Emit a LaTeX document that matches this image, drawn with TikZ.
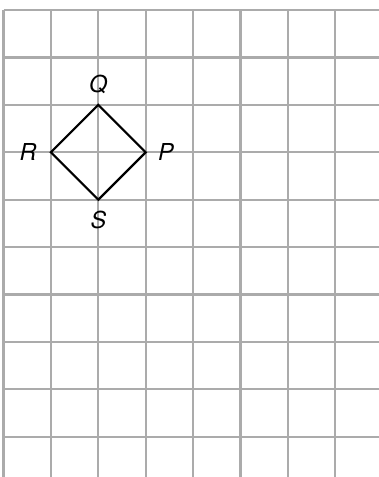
\documentclass[tikz,border=0pt]{standalone}
\usepackage{fontspec}
\setmainfont{TeX Gyre Heros}
\usetikzlibrary{positioning}

\begin{document}
\begin{tikzpicture}[gridline/.style={line width=1.3pt,black!33},side/.style={line width=1.3pt,black,line join=miter},label/.style={font=\fontsize{14}{16}\selectfont\itshape,inner sep=1pt}]
\useasboundingbox (-0.074,-9.85) rectangle (7.92,0.212);
\draw[gridline] (0,-9.85) grid (7.92,0);
\coordinate (Q) at (2,-2); \coordinate (R) at (1,-3); \coordinate (P) at (3,-3); \coordinate (S) at (2,-4);
\draw[side] (Q)--(P)--(S)--(R)--cycle;
\node[label,above=0.2cm of Q] (lQ) {Q}; \node[label,left=0.26cm of R] (lR) {R};
\node[label,right=0.22cm of P] (lP) {P}; \node[label,below=0.2cm of S] (lS) {S};
\end{tikzpicture}
\end{document}
